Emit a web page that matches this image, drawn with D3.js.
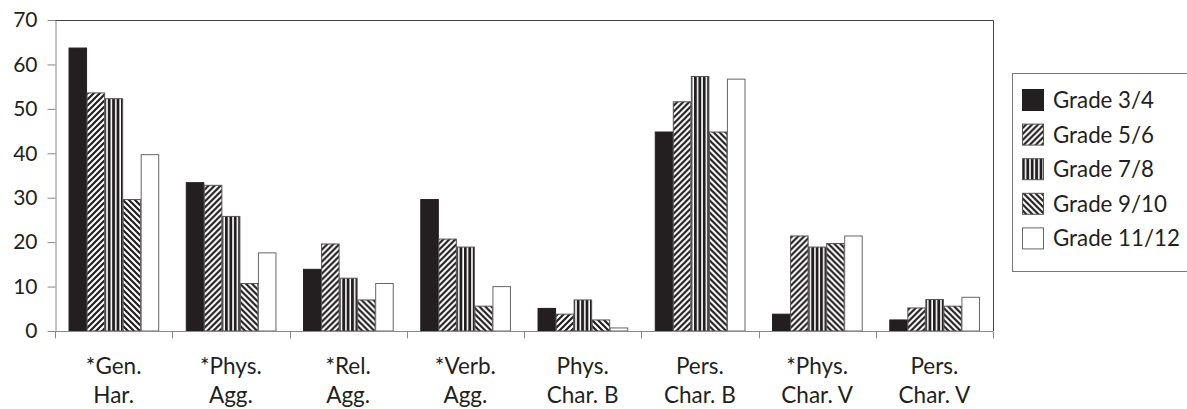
<!DOCTYPE html>
<html>
<head>
<meta charset="utf-8">
<script src="https://cdn.jsdelivr.net/npm/d3@7"></script>
<style>
  html, body { margin: 0; padding: 0; background: #fff; }
  svg { display: block; }
  text { font-family: Lato, "Open Sans", sans-serif; fill: #231f20; }
</style>
</head>
<body>
<svg id="chart" width="1187" height="409"></svg>
<script>
// Categories (two-line labels) and grade series
const categories = [
  ["*Gen.", "Har."],
  ["*Phys.", "Agg."],
  ["*Rel.", "Agg."],
  ["*Verb.", "Agg."],
  ["Phys.", "Char. B"],
  ["Pers.", "Char. B"],
  ["*Phys.", "Char. V"],
  ["Pers.", "Char. V"]
];
const grades = ["Grade 3/4", "Grade 5/6", "Grade 7/8", "Grade 9/10", "Grade 11/12"];

const grade34   = [63.8, 33.5, 14.0, 29.7, 5.2, 44.9, 3.9, 2.6];
const grade56   = [53.7, 32.9, 19.7, 20.8, 3.9, 51.7, 21.5, 5.3];
const grade78   = [52.4, 25.9, 12.0, 19.0, 7.1, 57.4, 19.0, 7.2];
const grade910  = [29.7, 10.8, 7.1, 5.7, 2.6, 44.9, 19.8, 5.7];
const grade1112 = [39.8, 17.7, 10.8, 10.1, 0.8, 56.8, 21.5, 7.7];

const yTicks = [0, 10, 20, 30, 40, 50, 60, 70];

const seriesValues = [grade34, grade56, grade78, grade910, grade1112];

const svg = d3.select("#chart");
const plot = { left: 55, right: 993, top: 20, bottom: 331 };

// Fill patterns for each grade
const defs = svg.append("defs");
const ink = "#231f20";

const pUp = defs.append("pattern").attr("id", "p-up")
  .attr("patternUnits", "userSpaceOnUse").attr("width", 6).attr("height", 6);
pUp.append("rect").attr("width", 6).attr("height", 6).attr("fill", "#fff");
pUp.append("path").attr("d", "M-1,7 L7,-1 M-4,4 L4,-4 M2,10 L10,2")
  .attr("stroke", ink).attr("stroke-width", 2.2);

const pVert = defs.append("pattern").attr("id", "p-vert")
  .attr("patternUnits", "userSpaceOnUse").attr("width", 4.4).attr("height", 10);
pVert.append("rect").attr("width", 4.4).attr("height", 10).attr("fill", "#fff");
pVert.append("rect").attr("x", 0).attr("width", 2.8).attr("height", 10).attr("fill", ink);

const pDown = defs.append("pattern").attr("id", "p-down")
  .attr("patternUnits", "userSpaceOnUse").attr("width", 6).attr("height", 6);
pDown.append("rect").attr("width", 6).attr("height", 6).attr("fill", "#fff");
pDown.append("path").attr("d", "M-1,-1 L7,7 M-4,2 L4,10 M2,-4 L10,4")
  .attr("stroke", ink).attr("stroke-width", 2.2);

const fills = [ink, "url(#p-up)", "url(#p-vert)", "url(#p-down)", "#fff"];
const strokes = ["#231f20", "#555", "#555", "#555", "#666"];

// Scales
const x0 = d3.scaleBand()
  .domain(d3.range(categories.length))
  .range([plot.left, plot.right])
  .paddingInner(0).paddingOuter(0);

const x1 = d3.scaleBand()
  .domain(d3.range(grades.length))
  .range([0, x0.bandwidth()])
  .paddingInner(0).paddingOuter(0.75);

const y = d3.scaleLinear().domain([0, 70]).range([plot.bottom, plot.top]);

// Plot frame (top and right edges)
svg.append("path")
  .attr("d", `M${plot.left},${plot.top + 0.5} H${plot.right + 0.5} V${plot.bottom}`)
  .attr("fill", "none").attr("stroke", "#444").attr("stroke-width", 1);

// Bars
const groups = svg.append("g").selectAll("g")
  .data(categories.map((c, i) => i))
  .join("g")
  .attr("transform", i => `translate(${x0(i)},0)`);

groups.selectAll("rect")
  .data(i => seriesValues.map((s, g) => ({ g, v: s[i] })))
  .join("rect")
  .attr("x", d => x1(d.g) + 0.5)
  .attr("y", d => y(d.v) + 0.5)
  .attr("width", x1.bandwidth() - 0.5)
  .attr("height", d => Math.max(0, y(0) - y(d.v) - 0.5))
  .attr("fill", d => fills[d.g])
  .attr("stroke", d => strokes[d.g])
  .attr("stroke-width", 1);

// Y axis
const yAxis = svg.append("g")
  .attr("transform", `translate(${plot.left + 0.5},0)`)
  .call(d3.axisLeft(y).tickValues(yTicks).tickSize(8).tickPadding(10).tickSizeOuter(0));
yAxis.select(".domain").attr("stroke", "#888");
yAxis.selectAll(".tick line").attr("stroke", "#888");
yAxis.selectAll(".tick text")
  .style("font-family", "Lato, 'Open Sans', sans-serif")
  .attr("font-size", 21).attr("fill", ink);

// X axis baseline and category separators
const xAxis = svg.append("g").attr("transform", `translate(0,${plot.bottom + 0.5})`);
xAxis.append("line")
  .attr("x1", plot.left).attr("x2", plot.right)
  .attr("stroke", "#888");
const bounds = d3.range(categories.length + 1).map(i =>
  i < categories.length ? x0(i) : x0(i - 1) + x0.bandwidth());
xAxis.selectAll("line.sep")
  .data(bounds)
  .join("line").attr("class", "sep")
  .attr("x1", d => Math.round(d) + 0.5).attr("x2", d => Math.round(d) + 0.5)
  .attr("y1", 0).attr("y2", 7)
  .attr("stroke", "#888");

// Category labels
const labels = svg.append("g").selectAll("text")
  .data(categories)
  .join("text")
  .attr("text-anchor", "middle")
  .attr("font-size", 22.5)
  .attr("transform", (c, i) => `translate(${x0(i) + x0.bandwidth() / 2},0)`);
labels.selectAll("tspan")
  .data(c => c)
  .join("tspan")
  .attr("x", 0)
  .attr("y", (d, j) => 373.5 + j * 29.5)
  .text(d => d);

// Legend
const legend = svg.append("g");
legend.append("rect")
  .attr("x", 1012.5).attr("y", 73.5)
  .attr("width", 190).attr("height", 198)
  .attr("fill", "#fff").attr("stroke", "#777");

const legendRows = legend.selectAll("g.row")
  .data(grades)
  .join("g").attr("class", "row")
  .attr("transform", (d, i) => `translate(1022,${100 + i * 34.6})`);
legendRows.append("rect")
  .attr("x", 0.5).attr("y", -10.5)
  .attr("width", 21).attr("height", 21)
  .attr("fill", (d, i) => fills[i])
  .attr("stroke", (d, i) => strokes[i]);
legendRows.append("text")
  .attr("x", 31).attr("y", 0)
  .attr("dy", "0.36em")
  .attr("font-size", 22.3)
  .text(d => d);
</script>
</body>
</html>
